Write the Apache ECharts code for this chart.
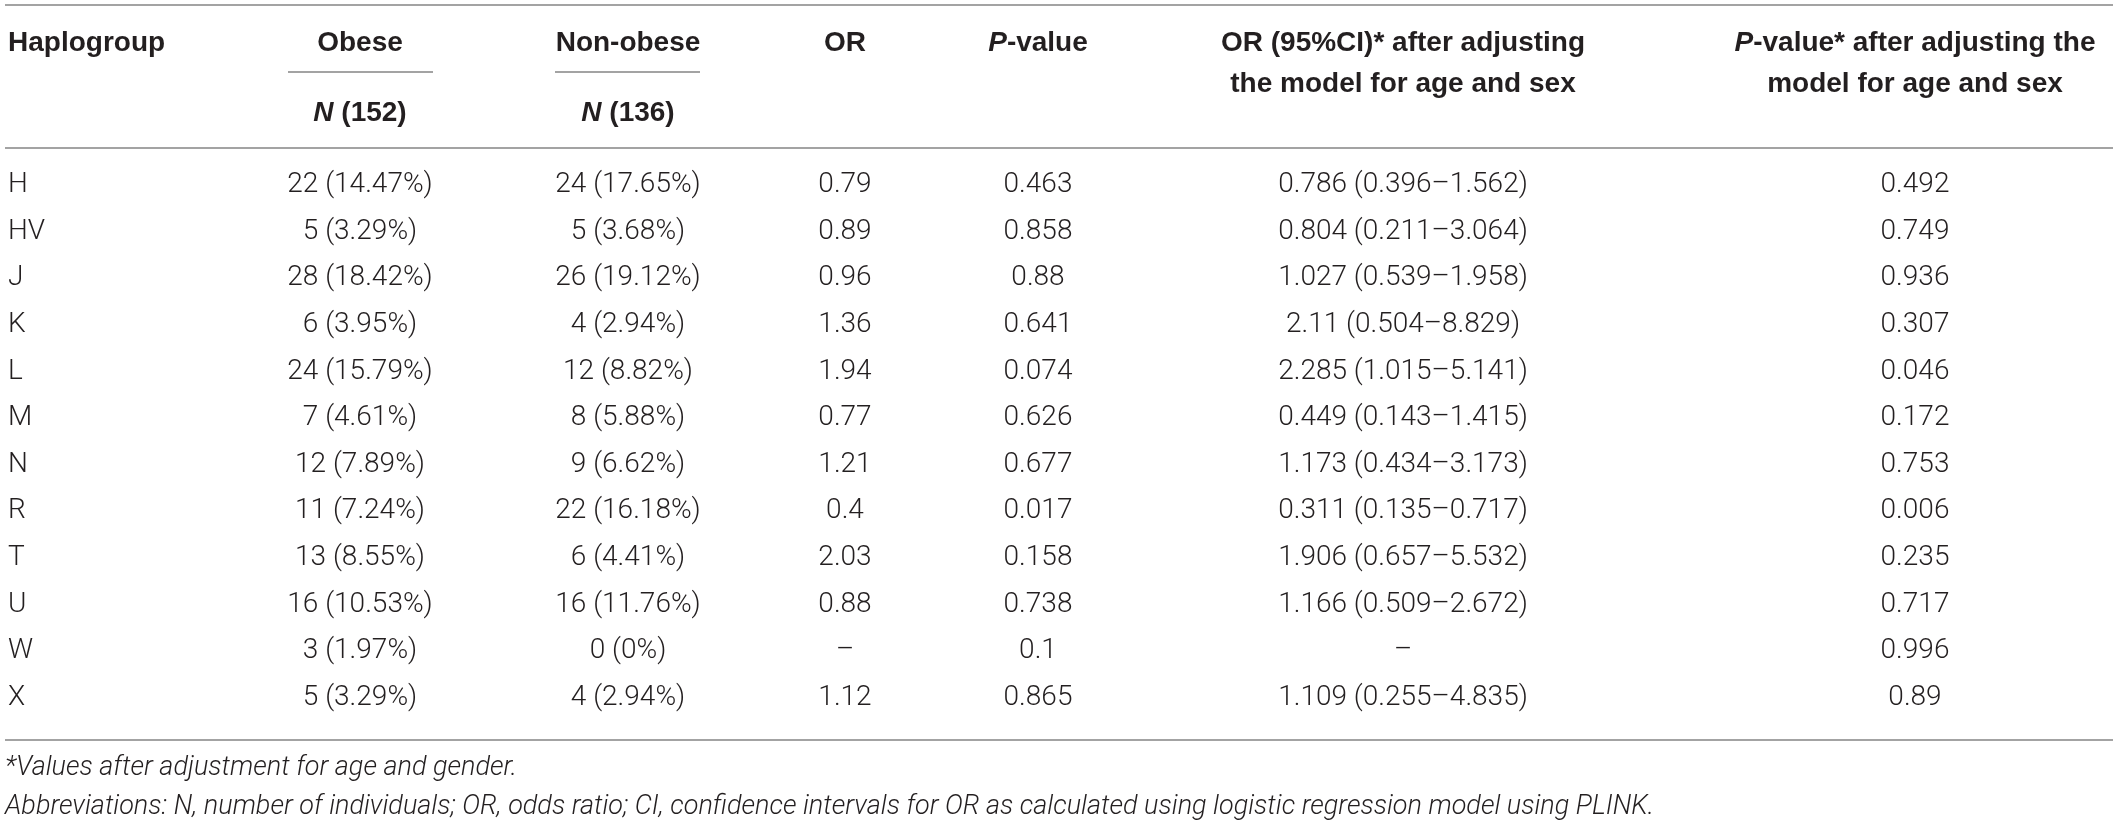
<!DOCTYPE html>
<html>
<head>
<meta charset="utf-8">
<title>Haplogroup table</title>
<script src="https://cdn.jsdelivr.net/npm/echarts@6/dist/echarts.min.js"></script>
<style>
  html, body { margin: 0; padding: 0; background: #fff; }
  #chart { width: 2120px; height: 826px; }
</style>
</head>
<body>
<div id="chart"></div>
<script>
// table values, one list per column
const haplogroups = ["H", "HV", "J", "K", "L", "M", "N", "R", "T", "U", "W", "X"];
const obese = ["22 (14.47%)", "5 (3.29%)", "28 (18.42%)", "6 (3.95%)", "24 (15.79%)", "7 (4.61%)",
  "12 (7.89%)", "11 (7.24%)", "13 (8.55%)", "16 (10.53%)", "3 (1.97%)", "5 (3.29%)"];
const nonObese = ["24 (17.65%)", "5 (3.68%)", "26 (19.12%)", "4 (2.94%)", "12 (8.82%)", "8 (5.88%)",
  "9 (6.62%)", "22 (16.18%)", "6 (4.41%)", "16 (11.76%)", "0 (0%)", "4 (2.94%)"];
const oddsRatio = ["0.79", "0.89", "0.96", "1.36", "1.94", "0.77", "1.21", "0.4", "2.03", "0.88", "–", "1.12"];
const pValue = ["0.463", "0.858", "0.88", "0.641", "0.074", "0.626", "0.677", "0.017", "0.158", "0.738", "0.1", "0.865"];
const orAdjusted = ["0.786 (0.396–1.562)", "0.804 (0.211–3.064)", "1.027 (0.539–1.958)", "2.11 (0.504–8.829)",
  "2.285 (1.015–5.141)", "0.449 (0.143–1.415)", "1.173 (0.434–3.173)", "0.311 (0.135–0.717)",
  "1.906 (0.657–5.532)", "1.166 (0.509–2.672)", "–", "1.109 (0.255–4.835)"];
const pAdjusted = ["0.492", "0.749", "0.936", "0.307", "0.046", "0.172", "0.753", "0.006", "0.235", "0.717", "0.996", "0.89"];

const groupSizes = ["152", "136"];
const footnotes = [
  "*Values after adjustment for age and gender.",
  "Abbreviations: N, number of individuals; OR, odds ratio; CI, confidence intervals for OR as calculated using logistic regression model using PLINK."
];

// layout
const columns = [haplogroups, obese, nonObese, oddsRatio, pValue, orAdjusted, pAdjusted];
const colX = [8, 360, 628, 845, 1038, 1403, 1915];
const colAlign = ["left", "center", "center", "center", "center", "center", "center"];

const INK = "#231f20";
const RULE = "#a3a3a3";
const BODY_FONT = "Roboto, 'Liberation Sans', sans-serif";
const HEAD_FONT = "'Liberation Sans', Arial, sans-serif";
const BODY_SIZE = 28;
const HEAD_SIZE = 28;

const cells = [];
columns.forEach((col, c) => {
  col.forEach((text, r) => {
    cells.push({ value: [colX[c], r], text: text, align: colAlign[c] });
  });
});

const headRich = {
  b: { fontFamily: HEAD_FONT, fontSize: HEAD_SIZE, fontWeight: "bold", fill: INK, color: INK },
  bi: { fontFamily: HEAD_FONT, fontSize: HEAD_SIZE, fontWeight: "bold", fontStyle: "italic", fill: INK, color: INK }
};

function head(text, x, y, align) {
  return {
    type: "text",
    x: x,
    y: y,
    style: {
      text: text,
      rich: headRich,
      align: align || "center",
      verticalAlign: "middle",
      fill: INK
    }
  };
}

function rule(x1, x2, y) {
  return {
    type: "line",
    shape: { x1: x1, y1: y, x2: x2, y2: y },
    style: { stroke: RULE, lineWidth: 2 }
  };
}

function note(text, y) {
  return {
    type: "text",
    x: 5,
    y: y,
    style: {
      text: text,
      fontFamily: BODY_FONT,
      fontSize: 27,
      fontWeight: 300,
      fontStyle: "italic",
      fill: INK,
      align: "left",
      verticalAlign: "middle"
    }
  };
}

const chart = echarts.init(document.getElementById("chart"));

chart.setOption({
  backgroundColor: "#fff",
  animation: false,
  grid: { left: 0, right: 0, top: 162, height: 559 },
  xAxis: { type: "value", min: 0, max: 2120, show: false },
  yAxis: { type: "category", data: haplogroups, inverse: true, show: false },
  graphic: [
    rule(5, 2113, 5),
    rule(5, 2113, 148),
    rule(5, 2113, 740),
    rule(288, 433, 72),
    rule(555, 700, 72),
    head("{b|Haplogroup}", 8, 43, "left"),
    head("{b|Obese}", colX[1], 43),
    head("{bi|N}{b| (" + groupSizes[0] + ")}", colX[1], 113),
    head("{b|Non-obese}", colX[2], 43),
    head("{bi|N}{b| (" + groupSizes[1] + ")}", colX[2], 113),
    head("{b|OR}", colX[3], 43),
    head("{bi|P}{b|-value}", colX[4], 43),
    head("{b|OR (95%CI)* after adjusting}", colX[5], 43),
    head("{b|the model for age and sex}", colX[5], 84),
    head("{bi|P}{b|-value* after adjusting the}", colX[6], 43),
    head("{b|model for age and sex}", colX[6], 84),
    note(footnotes[0], 768),
    note(footnotes[1], 807)
  ],
  series: [{
    type: "custom",
    clip: false,
    silent: true,
    data: cells,
    encode: { x: 0, y: 1 },
    renderItem: function (params, api) {
      const cell = cells[params.dataIndex];
      const pt = api.coord([api.value(0), api.value(1)]);
      return {
        type: "text",
        x: pt[0],
        y: pt[1],
        style: {
          text: cell.text,
          fontFamily: BODY_FONT,
          fontSize: BODY_SIZE,
          fontWeight: 300,
          fill: INK,
          align: cell.align,
          verticalAlign: "middle"
        }
      };
    }
  }]
});
</script>
</body>
</html>
